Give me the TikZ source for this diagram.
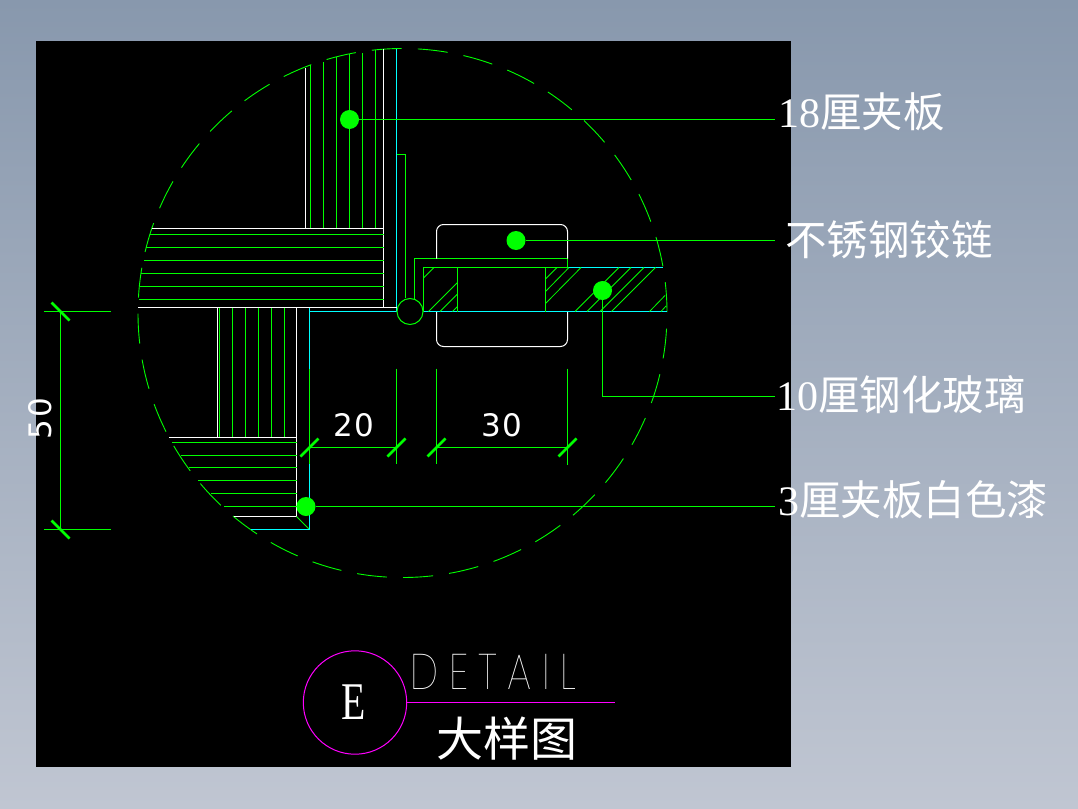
\documentclass[tikz,border=0pt]{standalone}
\usepackage{fontspec}
\setmainfont{Liberation Serif}
\newfontfamily\cjk{Noto Sans CJK SC}
\newfontfamily\dimf[LetterSpace=6]{DejaVu Sans}
\newfontfamily\thinf[LetterSpace=26]{Poppins Thin}
\definecolor{cadgreen}{RGB}{0,255,0}
\definecolor{cadcyan}{RGB}{0,255,255}
\definecolor{cadmag}{RGB}{255,0,255}
\tikzset{
 gl/.style={cadgreen,line width=1pt},
 hatchl/.style={cadgreen,line width=0.8pt},
 wl/.style={white,line width=1pt},
 cl/.style={cadcyan,line width=1pt},
 tickm/.style={cadgreen,line width=2.8pt},
 dimt/.style={cadgreen,line width=1pt},
 dot/.style={circle,fill=cadgreen,inner sep=0pt,outer sep=0pt,minimum size=19pt},
 lab/.style={white,anchor=base west,inner sep=0pt,outer sep=0pt,font=\fontsize{42}{42}\selectfont},
 dimlab/.style={white,inner sep=0pt,font=\dimf\fontsize{31}{31}\selectfont},
}
\newcommand{\ctext}[1]{{\cjk\fontsize{41.5}{42}\selectfont #1}}
\begin{document}
\begin{tikzpicture}[x=1pt,y=-1pt]
\useasboundingbox (0,0) rectangle (1078,808);
\shade[top color={rgb,255:red,136;green,152;blue,173},bottom color={rgb,255:red,192;green,198;blue,210}] (0,0) rectangle (1078,808);
\fill[black] (36,41) rectangle (791,767);
% dashed outline
\coordinate (cc) at (402.5,313);
\draw[cadgreen,line width=0.9pt,dash pattern=on 30pt off 16.16pt,dash phase=45.26pt] (cc) circle[radius=264.5pt];
% upper vertical board
\draw[wl] (305.5,68) -- (305.5,228.5);
\draw[wl] (383.5,49.5) -- (383.5,307.5);
\foreach \x/\t in {310.5/65,323.5/62,336.5/57.5,349.5/54,362.5/53,375.5/50}
  \draw[gl] (\x,\t) -- (\x,228.5);
\draw[cl] (396.5,49) -- (396.5,311.5);
% horizontal board
\draw[wl] (151.5,228.5) -- (383.5,228.5);
\foreach \y/\s in {234.5/150,247.5/145.5,260.5/144,273.5/141,286.5/139.5,299.5/139}
  \draw[gl] (\s,\y) -- (383.5,\y);
\draw[wl] (138,307.5) -- (396.5,307.5);
\draw[cl] (309.5,311.5) -- (396.5,311.5);
% lower vertical board
\draw[wl] (217.5,307.5) -- (217.5,437.5);
\foreach \x in {219.5,232.5,245.5,258.5,271.5,284.5}
  \draw[gl] (\x,307.5) -- (\x,437.5);
\draw[wl] (296.5,307.5) -- (296.5,516.5);
\draw[wl] (169,437.5) -- (296.5,437.5);
\foreach \y/\s in {442.5/172,455.5/180.5,467.5/188.5,480.5/198,493.5/211,506.5/224}
  \draw[gl] (\s,\y) -- (296.5,\y);
\draw[wl] (234,516.5) -- (296.5,516.5);
\draw[gl] (296.5,516.5) -- (309.5,529.5);
\draw[cl] (309.5,307.5) -- (309.5,529.5) -- (250.5,529.5);
% hinge
\draw[gl] (396.5,154.5) -- (405.5,154.5) -- (405.5,298);
\draw[gl] (414.5,298.5) -- (414.5,258.5) -- (567.5,258.5) -- (567.5,267.5);
\draw[gl] (410,311.5) circle[radius=13pt];
\draw[wl,rounded corners=7pt] (436.5,258.5) -- (436.5,224.5) -- (567.5,224.5) -- (567.5,258.5);
\draw[wl,rounded corners=7pt] (436.5,311.5) -- (436.5,346.5) -- (567.5,346.5) -- (567.5,311.5);
% glass
\draw[gl] (567.5,267.5) -- (423.5,267.5) -- (423.5,311.5);
\draw[cl] (567.5,267.5) -- (662.5,267.5);
\draw[cl] (423.5,311.5) -- (666.5,311.5);
\draw[gl] (457.5,267.5) -- (457.5,311.5);
\draw[gl] (545.5,267.5) -- (545.5,311.5);
\foreach \a/\b/\c/\d in {423.5/278/434/267.5,428.5/311.5/457.5/282.5,440/311.5/457.5/294,452.5/311.5/457.5/306.5,
  545.5/279/557/267.5,545.5/291.5/569/267.5,545.5/303.5/581/267.5,575/311.5/619/267.5,587/311.5/631/267.5,
  600/311.5/644/267.5,611.5/311.5/655.5/267.5,649.5/311.5/665/295.5,661/311.5/666/306}
  \draw[hatchl] (\a,\b) -- (\c,\d);
% horizontal dimensions
\coordinate (da) at (309.5,447.5);
\coordinate (db) at (396.5,447.5);
\coordinate (dc) at (436.5,447.5);
\coordinate (dd) at (567.5,447.5);
\draw[dimt] (309.5,368.5) -- (309.5,464);
\draw[dimt] (396.5,368.5) -- (396.5,464);
\draw[dimt] (436.5,368.5) -- (436.5,464);
\draw[dimt] (567.5,368.5) -- (567.5,465);
\draw[dimt] (da) -- (db);
\draw[dimt] (dc) -- (dd);
\foreach \p in {da,db,dc,dd}
  \draw[tickm] (\p) +(-9,9) -- +(9,-9);
\node[dimlab] (t20) at (354,425.7) {20};
\node[dimlab] (t30) at (502,425.7) {30};
% vertical dimension
\coordinate (de) at (60.5,311.5);
\coordinate (df) at (60.5,529.5);
\draw[dimt] (44,311.5) -- (110.5,311.5);
\draw[dimt] (44,529.5) -- (110.5,529.5);
\draw[dimt] (de) -- (df);
\foreach \p in {de,df}
  \draw[tickm] (\p) +(-9,-9) -- +(9,9);
\node[dimlab,rotate=90] (t50) at (40,418.7) {50};
% leaders and callouts
\node[dot] (d1) at (349.5,119.5) {};
\node[dot] (d2) at (516,240.5) {};
\node[dot] (d3) at (602.5,290.5) {};
\node[dot] (d4) at (306,506.5) {};
\coordinate (e1) at (775,119.5);
\coordinate (e2) at (775,240.5);
\coordinate (e3) at (775,396.5);
\coordinate (e4) at (775,506.5);
\draw[gl] (d1) -- (e1);
\draw[gl] (d2) -- (e2);
\draw[gl] (d3) |- (e3);
\draw[gl] (d4) -- (e4);
\node[lab] (l1) at (778,127.3) {18\ctext{厘夹板}};
\node[lab] (l2) at (785,255) {\ctext{不锈钢铰链}};
\node[lab] (l3) at (776,410) {10\ctext{厘钢化玻璃}};
\node[lab] (l4) at (778,515) {3\ctext{厘夹板白色漆}};
% title
\node[circle,draw=cadmag,line width=1pt,minimum size=103.4pt,inner sep=0pt,outer sep=0pt] (ec) at (355,702.5) {};
\node[white,inner sep=0pt,xscale=.75,transform shape,font=\fontsize{53}{53}\selectfont] (et) at (354,701.7) {E};
\coordinate (le) at (615,702.5);
\draw[cadmag,line width=1pt] (ec) -- (le);
\node[white,anchor=base west,inner sep=0pt,xscale=.8,transform shape,font=\thinf\fontsize{50}{50}\selectfont] (dt) at (410.5,689) {DETAIL};
\node[white,inner sep=0pt,font=\cjk\fontsize{47}{47}\selectfont] (dy) at (507,739) {大样图};
\end{tikzpicture}
\end{document}
